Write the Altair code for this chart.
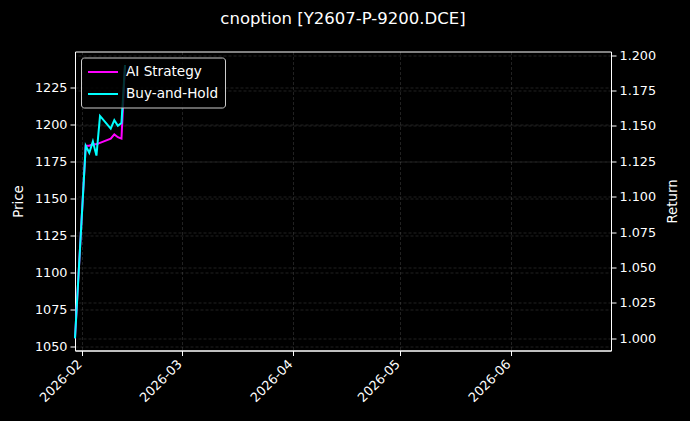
import altair as alt
import pandas as pd
import altair.utils.html as alt_html

# ---- data ----
dates = ["2026-01-30", "2026-02-02", "2026-02-03", "2026-02-04", "2026-02-05",
         "2026-02-06", "2026-02-09", "2026-02-10", "2026-02-11", "2026-02-12",
         "2026-02-13"]
price = [1055.2, 1185.6, 1180.9, 1188.3, 1179.5, 1205.9, 1197.1, 1203.2,
         1199.1, 1201.1, 1240.3]
ai_strategy = [1.000, 1.136, 1.136, 1.137, 1.137, 1.138, 1.141, 1.144,
               1.142, 1.141, 1.193]
buy_hold = [1.000, 1.136, 1.131, 1.139, 1.129, 1.157, 1.148, 1.154,
            1.150, 1.152, 1.193]

series_names = ["AI Strategy", "Buy-and-Hold"]
series_colors = ["#ff00ff", "#00ffff"]
month_ticks = [2, 3, 4, 5, 6]
price_ticks = [1050, 1075, 1100, 1125, 1150, 1175, 1200, 1225]
return_ticks = [1.000, 1.025, 1.050, 1.075, 1.100, 1.125, 1.150, 1.175, 1.200]
title_text = "cnoption [Y2607-P-9200.DCE]"

# page background black (the reference figure is black edge to edge)
for _name, _tpl in list(alt_html.TEMPLATES.items()):
    _orig_render = _tpl.render

    def _render(*a, _r=_orig_render, **k):
        html = _r(*a, **k)
        return html.replace("<head>", "<head>\n<style>html,body{background:#000000;}</style>", 1)

    try:
        _tpl.render = _render
    except Exception:
        pass

df = pd.DataFrame({
    "date": [d + "T00:00:00" for d in dates],
    "price": price,
    "ai": ai_strategy,
    "bh": buy_hold,
})

FONT = "DejaVu Sans"

xenc = alt.X(
    "date:T",
    scale=alt.Scale(domain=[alt.DateTime(year=2026, month=1, date=30),
                            alt.DateTime(year=2026, month=6, date=29)]),
    axis=alt.Axis(
        values=[alt.DateTime(year=2026, month=m, date=1) for m in month_ticks],
        format="%Y-%m", labelAngle=315, labelAlign="right", labelBaseline="top",
        labelOffset=-7, labelPadding=2, labelFlush=False, labelOverlap=False,
        title=None, grid=True,
    ),
)

color_scale = alt.Scale(domain=series_names, range=series_colors)
color_enc = alt.Color("series:N", scale=color_scale,
                      legend=alt.Legend(title=None, zindex=1))

price_layer = alt.Chart(df).mark_line(opacity=0).encode(
    x=xenc,
    y=alt.Y("price:Q",
            scale=alt.Scale(domain=[1047.4, 1249.5], nice=False, zero=False),
            axis=alt.Axis(orient="left", title="Price", values=price_ticks,
                          format="d", titlePadding=9, grid=True)),
)

ret_axis = alt.Axis(orient="right", title="Return", values=return_ticks,
                    format=".3f", titleAngle=270, titleBaseline="top",
                    titlePadding=10, grid=True)
ret_scale = alt.Scale(domain=[0.9914, 1.2025], nice=False, zero=False)

ai_layer = alt.Chart(df).transform_calculate(
    series="'" + series_names[0] + "'"
).mark_line(strokeWidth=2).encode(
    x=xenc,
    y=alt.Y("ai:Q", scale=ret_scale, axis=ret_axis),
    color=color_enc,
)
bh_layer = alt.Chart(df).transform_calculate(
    series="'" + series_names[1] + "'"
).mark_line(strokeWidth=2).encode(
    x=xenc,
    y=alt.Y("bh:Q", scale=ret_scale, axis=ret_axis),
    color=color_enc,
)

returns = alt.layer(ai_layer, bh_layer)

chart = (
    alt.layer(price_layer, returns)
    .resolve_scale(y="independent")
    .properties(
        width=536, height=299,
        title=alt.Title(title_text, fontSize=16.5, font=FONT, color="white",
                        fontWeight="normal", anchor="middle", offset=22),
        autosize="none",
        padding={"left": 67, "top": 43.5, "right": 71, "bottom": 62},
        background="#000000",
    )
    .configure_view(stroke="white", strokeWidth=1)
    .configure_axis(
        labelFont=FONT, labelFontSize=12.8, labelColor="white",
        tickColor="white", tickSize=5, tickWidth=1,
        domainColor="white", domainWidth=1, labelPadding=3,
        titleFont=FONT, titleFontSize=13.3, titleColor="white",
        titleFontWeight="normal",
        gridColor="#ffffff", gridOpacity=0.22, gridDash=[3, 2], gridWidth=0.6,
    )
    .configure_legend(
        orient="top-left", offset=6, fillColor="rgba(0,0,0,0.8)",
        strokeColor="#cccccc", cornerRadius=3, padding=6, zindex=1,
        labelColor="white", labelFont=FONT, labelFontSize=13.6,
        symbolType="M-1,0L3,0", symbolStrokeWidth=2, symbolSize=225,
        labelOffset=22, rowPadding=6,
    )
)

chart.save("out.html", embed_options={"renderer": "svg", "actions": False})
